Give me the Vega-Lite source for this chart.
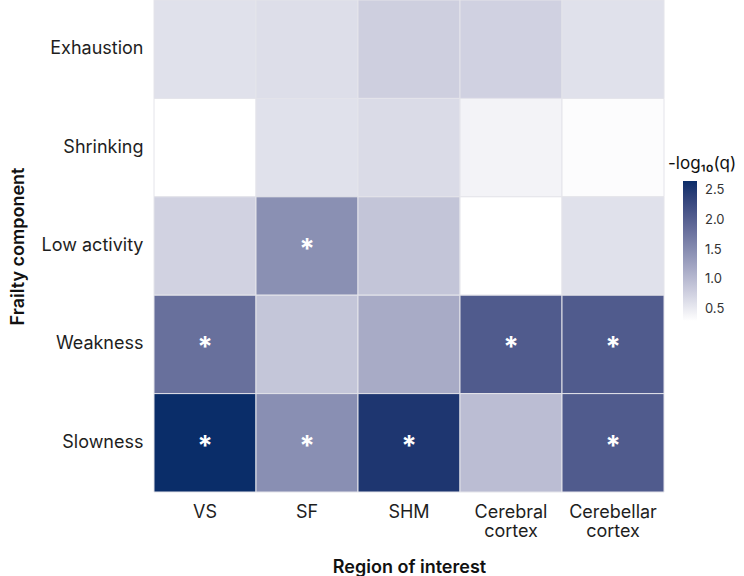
{
  "$schema": "https://vega.github.io/schema/vega-lite/v6.json",
  "autosize": {"type": "none"},
  "width": 510,
  "height": 492,
  "padding": {"left": 154, "top": 0, "right": 80, "bottom": 84},
  "background": "#ffffff",
  "config": {
    "view": {"stroke": null},
    "font": "Inter"
  },
  "data": {
    "values": [
      {"component": "Exhaustion", "region": "VS", "q": 0.60, "sig": ""},
      {"component": "Exhaustion", "region": "SF", "q": 0.63, "sig": ""},
      {"component": "Exhaustion", "region": "SHM", "q": 0.78, "sig": ""},
      {"component": "Exhaustion", "region": "Cerebral cortex", "q": 0.76, "sig": ""},
      {"component": "Exhaustion", "region": "Cerebellar cortex", "q": 0.60, "sig": ""},
      {"component": "Shrinking", "region": "VS", "q": 0.30, "sig": ""},
      {"component": "Shrinking", "region": "SF", "q": 0.60, "sig": ""},
      {"component": "Shrinking", "region": "SHM", "q": 0.66, "sig": ""},
      {"component": "Shrinking", "region": "Cerebral cortex", "q": 0.42, "sig": ""},
      {"component": "Shrinking", "region": "Cerebellar cortex", "q": 0.33, "sig": ""},
      {"component": "Low activity", "region": "VS", "q": 0.75, "sig": ""},
      {"component": "Low activity", "region": "SF", "q": 1.46, "sig": "*"},
      {"component": "Low activity", "region": "SHM", "q": 0.89, "sig": ""},
      {"component": "Low activity", "region": "Cerebral cortex", "q": 0.30, "sig": ""},
      {"component": "Low activity", "region": "Cerebellar cortex", "q": 0.60, "sig": ""},
      {"component": "Weakness", "region": "VS", "q": 1.82, "sig": "*"},
      {"component": "Weakness", "region": "SF", "q": 0.88, "sig": ""},
      {"component": "Weakness", "region": "SHM", "q": 1.16, "sig": ""},
      {"component": "Weakness", "region": "Cerebral cortex", "q": 2.06, "sig": "*"},
      {"component": "Weakness", "region": "Cerebellar cortex", "q": 2.06, "sig": "*"},
      {"component": "Slowness", "region": "VS", "q": 2.65, "sig": "*"},
      {"component": "Slowness", "region": "SF", "q": 1.47, "sig": "*"},
      {"component": "Slowness", "region": "SHM", "q": 2.53, "sig": "*"},
      {"component": "Slowness", "region": "Cerebral cortex", "q": 0.97, "sig": ""},
      {"component": "Slowness", "region": "Cerebellar cortex", "q": 2.06, "sig": "*"}
    ]
  },
  "encoding": {
    "x": {
      "field": "region",
      "type": "nominal",
      "sort": ["VS", "SF", "SHM", "Cerebral cortex", "Cerebellar cortex"],
      "scale": {"paddingInner": 0, "paddingOuter": 0},
      "axis": {
        "title": "Region of interest",
        "labelAngle": 0,
        "labelExpr": "split(datum.label, ' ')",
        "labelFontSize": 18,
        "labelLineHeight": 19,
        "labelBaseline": "top",
        "labelPadding": 11,
        "labelColor": "#1e1e1e",
        "titleFontSize": 18,
        "titleFontWeight": 600,
        "titleColor": "#111111",
        "titlePadding": 18,
        "ticks": false,
        "domain": false,
        "grid": false
      }
    },
    "y": {
      "field": "component",
      "type": "nominal",
      "sort": ["Exhaustion", "Shrinking", "Low activity", "Weakness", "Slowness"],
      "scale": {"paddingInner": 0, "paddingOuter": 0},
      "axis": {
        "title": "Frailty component",
        "labelFontSize": 18,
        "labelPadding": 11,
        "labelColor": "#1e1e1e",
        "titleFontSize": 18,
        "titleFontWeight": 600,
        "titleColor": "#111111",
        "titlePadding": 14,
        "ticks": false,
        "domain": false,
        "grid": false
      }
    }
  },
  "layer": [
    {
      "mark": {"type": "rect", "stroke": "#e4e4ea", "strokeWidth": 1},
      "encoding": {
        "color": {
          "field": "q",
          "type": "quantitative",
          "scale": {"domain": [0.30, 2.65], "range": ["#ffffff", "#0a2d69"], "interpolate": "lab"},
          "legend": {
            "title": "-log₁₀(q)",
            "orient": "none",
            "legendX": 514,
            "legendY": 156,
            "direction": "vertical",
            "values": [0.5, 1.0, 1.5, 2.0, 2.5],
            "format": ".1f",
            "gradientLength": 140,
            "gradientThickness": 14,
            "gradientStrokeWidth": 0,
            "labelFontSize": 13,
            "labelColor": "#333333",
            "labelOffset": 23,
            "titleFontSize": 17,
            "titleFontWeight": "normal",
            "titleColor": "#111111",
            "titleAnchor": "start",
            "titlePadding": 8,
            "encode": {"gradient": {"update": {"x": {"value": 15}}}}
          }
        }
      }
    },
    {
      "transform": [{"filter": "datum.sig === '*'"}],
      "mark": {"type": "text", "color": "#ffffff", "fontSize": 28, "fontWeight": "bold", "baseline": "middle", "dy": 5},
      "encoding": {"text": {"field": "sig"}}
    }
  ]
}
